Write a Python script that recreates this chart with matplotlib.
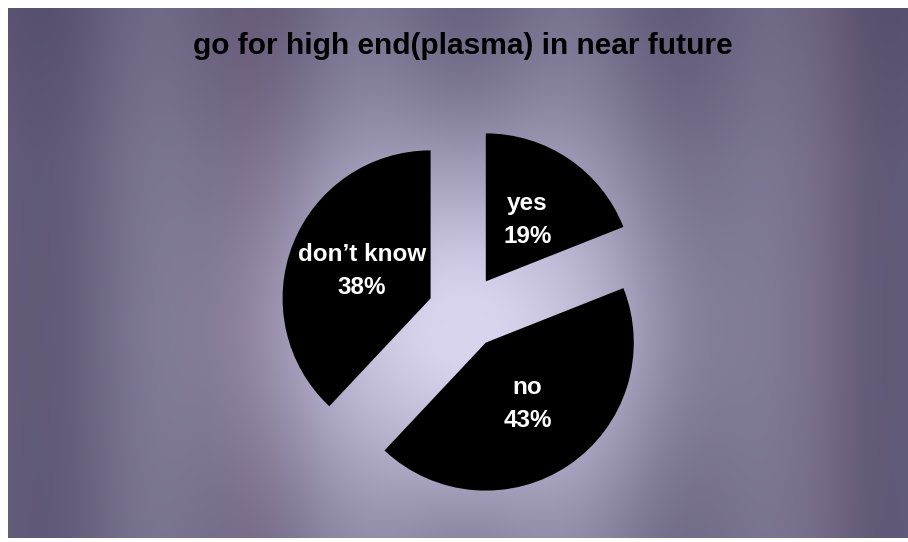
import numpy as np
import matplotlib.pyplot as plt

# -----------------------------
# Data
# -----------------------------
labels = ["yes", "no", "don\u2019t know"]
shares = [19, 43, 38]
explode = [0.25, 0.25, 0.25]
title = "go for high end(plasma) in near future"

W, H = 908, 542
fig = plt.figure(figsize=(W / 100, H / 100), dpi=100, facecolor="white")

# -----------------------------
# Blurry slide background
# -----------------------------
bg = fig.add_axes([8 / W, 4 / H, 900 / W, 530 / H])
xs = np.linspace(8, 908, 180)
ys = np.linspace(8, 538, 106)
X, Y = np.meshgrid(xs, ys)
glow = np.exp(-((X - 465) / 200) ** 2 - ((Y - 330) / 190) ** 2)
band = 0.06 * np.cos(2 * np.pi * (X - 150) / 210) * (1 - glow)
edge = 0.10 * ((X - 465) / 450) ** 2 + 0.06 * np.clip((160 - Y) / 160, 0, 1)
t = np.clip(0.32 + 0.70 * glow + band - edge, 0, 1)
dark = np.array([70, 64, 94]) / 255
light = np.array([216, 212, 238]) / 255
img = dark + t[..., None] * (light - dark)
# faint warm tint in a couple of streaks
warm = 0.025 * np.exp(-((X - 250) / 40) ** 2) + 0.02 * np.exp(-((X - 830) / 30) ** 2)
img[..., 0] += warm
img = np.clip(img, 0, 1)
bg.imshow(img, aspect="auto", interpolation="bicubic")
bg.axis("off")

# -----------------------------
# Pie
# -----------------------------
ax = fig.add_axes([0, 0, 1, 1])
ax.patch.set_alpha(0)
r_px = 148
cx, cy = 465, 312
wedges, _, autotexts = ax.pie(
    shares, explode=explode, startangle=90, counterclock=False,
    colors=["black"] * 3, autopct="%1.0f%%", pctdistance=0.5,
    wedgeprops=dict(linewidth=0),
    textprops=dict(color="white", fontsize=17.5, fontweight="bold",
                   family="Liberation Sans"),
)
for txt, lab in zip(autotexts, labels):
    txt.set_text(f"{lab}\n{txt.get_text()}")
    txt.set_linespacing(1.55)
    txt.set_ha("center")
    txt.set_va("center")

ax.set_xlim(-cx / r_px, (W - cx) / r_px)
ax.set_ylim(-(H - cy) / r_px, cy / r_px)
ax.set_aspect("auto")
ax.axis("off")

fig.text(463 / W, 1 - 46 / H, title, ha="center", va="center",
         fontsize=21.5, fontweight="bold", family="Liberation Sans", color="black")

fig.savefig("out.png", dpi=100, facecolor="white")
plt.close(fig)
